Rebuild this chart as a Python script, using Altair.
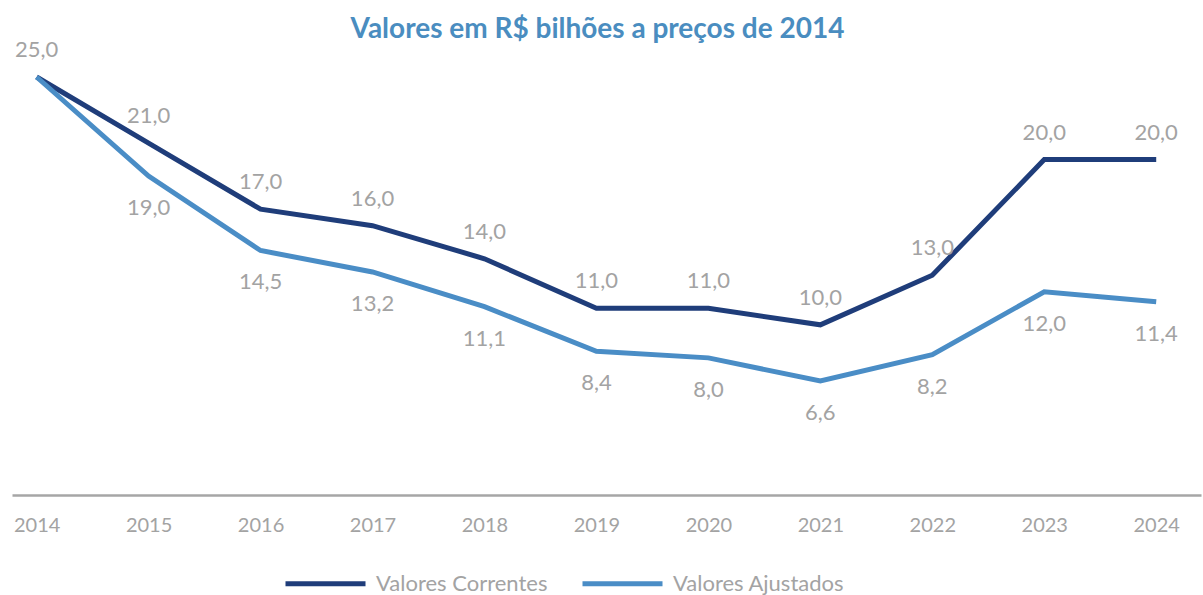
import altair as alt
import pandas as pd

anos = [2014, 2015, 2016, 2017, 2018, 2019, 2020, 2021, 2022, 2023, 2024]
correntes = [25.0, 21.0, 17.0, 16.0, 14.0, 11.0, 11.0, 10.0, 13.0, 20.0, 20.0]
ajustados = [25.0, 19.0, 14.5, 13.2, 11.1, 8.4, 8.0, 6.6, 8.2, 12.0, 11.4]
series = ["Valores Correntes", "Valores Ajustados"]
cores = ["#1F3D7A", "#4A8DC6"]

def fmt(v):
    return f"{v:.1f}".replace(".", ",")

rows = []
for a, c, j in zip(anos, correntes, ajustados):
    rows.append({"ano": a, "serie": series[0], "valor": c, "rotulo": fmt(c), "mostrar": True})
    rows.append({"ano": a, "serie": series[1], "valor": j, "rotulo": fmt(j), "mostrar": a != anos[0]})
df = pd.DataFrame(rows)

FONT = "Lato"
GRAY = "#A3A3A3"

x = alt.X("ano:Q", scale=alt.Scale(domain=[2013.78, 2024.4], nice=False, zero=False),
          axis=alt.Axis(values=anos, format="d", title=None, ticks=False, grid=False,
                        domainColor="#A6A6A6", domainWidth=2.5, labelColor=GRAY,
                        labelFont=FONT, labelFontSize=20, labelPadding=20,
                        labelFlush=False))
y = alt.Y("valor:Q", scale=alt.Scale(domain=[-0.3, 25], nice=False, zero=False), axis=None)

base = alt.Chart(df)

lines = base.mark_line(strokeWidth=5, strokeCap="butt", strokeJoin="miter").encode(
    x=x, y=y,
    color=alt.Color("serie:N", sort=series,
                    scale=alt.Scale(domain=series, range=cores),
                    legend=alt.Legend(title=None, orient="none", direction="horizontal",
                                      legendX=271, legendY=464,
                                      symbolType="stroke", symbolSize=6400,
                                      symbolStrokeWidth=5, labelFont=FONT,
                                      labelFontSize=22, labelColor=GRAY, labelLimit=400,
                                      labelOffset=8, columnPadding=24)),
)

lab_top = base.transform_filter(alt.datum.serie == series[0]).mark_text(
    dy=-27, font=FONT, fontSize=22, color=GRAY).encode(x=x, y=y, text="rotulo:N")
lab_bot = base.transform_filter((alt.datum.serie == series[1]) & alt.datum.mostrar).mark_text(
    dy=32, font=FONT, fontSize=22, color=GRAY).encode(x=x, y=y, text="rotulo:N")

chart = alt.layer(lines, lab_top, lab_bot).properties(
    width=1189, height=418,
    title=alt.TitleParams("Valores em R$ bilhões a preços de 2014", font=FONT, fontSize=28,
                          fontWeight="bold", color="#4A8DC0", anchor="middle", offset=-5,
                          dx=-9),
    padding={"left": 12, "top": 77, "right": 2, "bottom": 100},
    autosize=alt.AutoSizeParams(type="none"),
).configure_view(stroke=None)

chart.save("out.html", embed_options={"renderer": "svg", "actions": False})
